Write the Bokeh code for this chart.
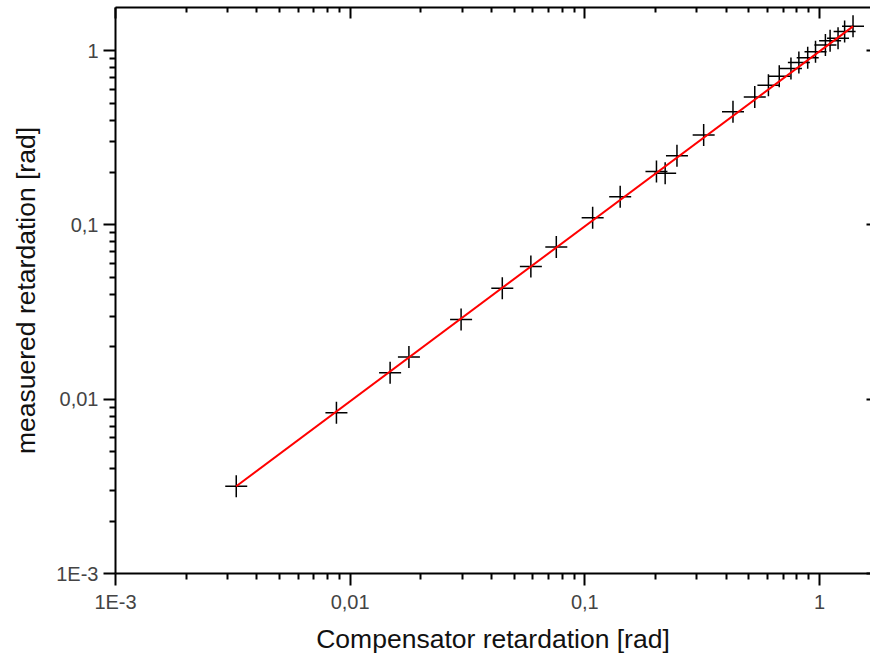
from bokeh.plotting import figure
from bokeh.models import LogAxis, FixedTicker, Range1d
from bokeh.embed import file_html
from bokeh.resources import INLINE

comp_x = [0.00327, 0.00874, 0.0148, 0.0178, 0.0297, 0.0445, 0.0589, 0.0756,
          0.108, 0.1415, 0.202, 0.220, 0.247, 0.321, 0.428, 0.530, 0.606,
          0.674, 0.756, 0.817, 0.891, 0.962, 1.06, 1.11, 1.20, 1.28, 1.39]
meas_y = [0.00317, 0.00837, 0.0142, 0.0175, 0.0287, 0.0434, 0.0577, 0.0748,
          0.110, 0.145, 0.203, 0.198, 0.250, 0.328, 0.447, 0.543, 0.634,
          0.713, 0.791, 0.855, 0.912, 0.986, 1.08, 1.14, 1.18, 1.29, 1.38]

# fitted line end points
fit_x = [0.00327, 1.39]
fit_y = [0.00317, 1.38]

tick_values = [0.001, 0.01, 0.1, 1.0]
tick_labels = ["1E-3", "0,01", "0,1", "1"]
x_label = "Compensator retardation [rad]"
y_label = "measuered retardation [rad]"

minor = [m * 10.0 ** k for k in range(-3, 1) for m in range(2, 10)]
overrides = {v: l for v, l in zip(tick_values, tick_labels)}
blank = {v: "" for v in tick_values}

FONT = "Liberation Sans"

p = figure(width=870, height=656, x_axis_type="log", y_axis_type="log",
           x_range=Range1d(1e-3, 1.65), y_range=Range1d(1e-3, 1.77),
           output_backend="svg", toolbar_location=None,
           min_border_left=115, min_border_right=0, min_border_top=7,
           min_border_bottom=80)
p.grid.visible = False
p.outline_line_color = None
p.background_fill_color = "white"
p.border_fill_color = "white"


def style(ax, tin, tout, mtin, mtout, line=True):
    ax.ticker = FixedTicker(ticks=tick_values, minor_ticks=minor)
    ax.axis_line_width = 2
    ax.axis_line_color = "black" if line else None
    ax.major_tick_line_width = 2
    ax.minor_tick_line_width = 2
    ax.major_tick_line_color = "black"
    ax.minor_tick_line_color = "black"
    ax.major_tick_in = tin
    ax.major_tick_out = tout
    ax.minor_tick_in = mtin
    ax.minor_tick_out = mtout
    ax.major_label_text_font = FONT
    ax.major_label_text_font_size = "20px"
    ax.major_label_text_color = "#444444"
    ax.axis_label_text_font = FONT
    ax.axis_label_text_font_size = "26.5px"
    ax.axis_label_text_font_style = "normal"
    ax.axis_label_text_color = "#111111"


xa = p.below[0]
style(xa, 0, 12, 0, 6)
xa.major_label_overrides = overrides
xa.major_label_standoff = 5
xa.axis_label = x_label
xa.axis_label_standoff = 8

ya = p.left[0]
style(ya, 0, 12, 0, 6)
ya.major_label_overrides = overrides
ya.major_label_standoff = 5
ya.axis_label = y_label
ya.axis_label_standoff = 12

top = LogAxis()
style(top, 11, 0, 5, 0)
top.major_label_overrides = blank
top.major_label_standoff = 0
p.add_layout(top, "above")

right = LogAxis()
style(right, 4, 0, 0, 0, line=False)
right.major_label_overrides = blank
right.major_label_standoff = 0
p.add_layout(right, "right")

p.scatter(comp_x, meas_y, marker="cross", size=22, line_color="black",
          line_width=1.5)
p.line(fit_x, fit_y, line_color="#ff0000", line_width=2)

open("out.html", "w").write(file_html(p, INLINE))
